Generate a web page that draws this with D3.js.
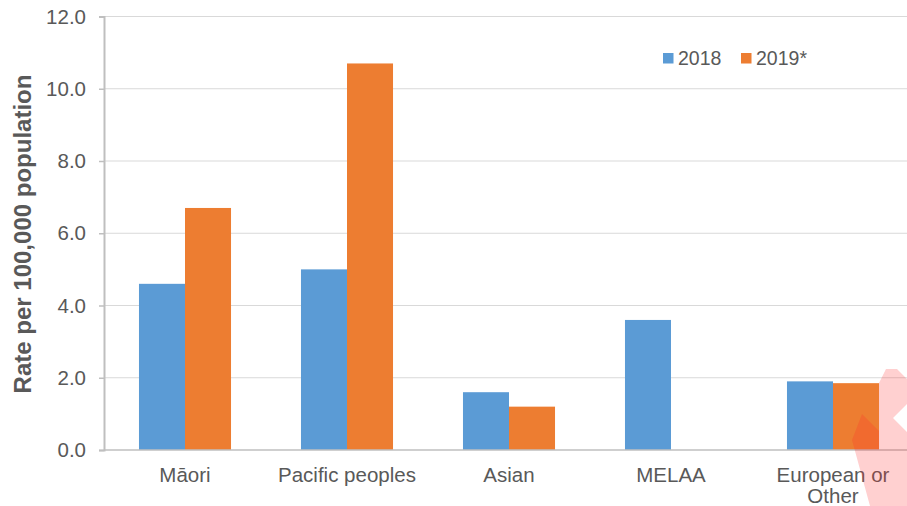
<!DOCTYPE html>
<html>
<head>
<meta charset="utf-8">
<script src="https://cdn.jsdelivr.net/npm/d3@7"></script>
<style>
  html, body { margin: 0; padding: 0; background: #fff; }
  svg { display: block; font-family: "Liberation Sans", Arial, sans-serif; }
</style>
</head>
<body>
<svg id="chart" width="907" height="506"></svg>
<script>
// ---- data ----
const categories = ["Māori", "Pacific peoples", "Asian", "MELAA", "European or Other"];
const categoryLines = [["Māori"], ["Pacific peoples"], ["Asian"], ["MELAA"], ["European or", "Other"]];
const seriesNames = ["2018", "2019*"];
const values2018 = [4.6, 5.0, 1.6, 3.6, 1.9];
const values2019 = [6.7, 10.7, 1.2, 0, 1.85];
const yTicks = [0, 2, 4, 6, 8, 10, 12];
const colors = ["#5B9BD5", "#ED7D31"];

(function () {
const svg = d3.select("#chart");
const W = 907, H = 506;
const mLeft = 104, mTop = 16.5, mBottom = 450;
const band = 162;

const x = d3.scaleBand().domain(categories)
  .range([mLeft, mLeft + band * categories.length]).paddingInner(0).paddingOuter(0);
const x1 = d3.scaleBand().domain(seriesNames).range([0, x.bandwidth()])
  .paddingInner(0).paddingOuter(0.76);
const y = d3.scaleLinear().domain([0, 12]).range([mBottom, mTop]);

const textColor = "#595959";

// gridlines
svg.append("g").selectAll("line").data(yTicks.filter(d => d > 0)).join("line")
  .attr("x1", mLeft).attr("x2", W)
  .attr("y1", d => y(d)).attr("y2", d => y(d))
  .attr("stroke", "#d9d9d9").attr("stroke-width", 1);

// bars
const seriesData = [values2018, values2019];
seriesNames.forEach((s, si) => {
  svg.append("g").selectAll("rect").data(categories).join("rect")
    .attr("x", c => x(c) + x1(s))
    .attr("width", x1.bandwidth())
    .attr("y", (c, i) => y(seriesData[si][i]))
    .attr("height", (c, i) => mBottom - y(seriesData[si][i]))
    .attr("fill", colors[si]);
});

// y axis
const yAxis = d3.axisLeft(y).tickValues(yTicks).tickFormat(d3.format(".1f"))
  .tickSize(5).tickPadding(13);
const ya = svg.append("g").attr("transform", `translate(${mLeft},0)`).call(yAxis);
ya.select(".domain").attr("stroke", "#bfbfbf").attr("stroke-width", 2);
ya.selectAll(".tick line").attr("stroke", "#bfbfbf").attr("stroke-width", 1.5);
ya.selectAll(".tick text").attr("fill", textColor)
  .style("font-size", "20.5px").style("font-family", "Liberation Sans, Arial, sans-serif");

// x axis line
svg.append("line").attr("x1", mLeft).attr("x2", W)
  .attr("y1", mBottom).attr("y2", mBottom)
  .attr("stroke", "#bfbfbf").attr("stroke-width", 1.5);

// category labels
const cl = svg.append("g");
categories.forEach((c, i) => {
  const t = cl.append("text")
    .attr("x", x(c) + x.bandwidth() / 2)
    .attr("y", 482)
    .attr("text-anchor", "middle")
    .attr("fill", textColor)
    .style("font-size", "20.5px");
  categoryLines[i].forEach((ln, li) => {
    t.append("tspan").attr("x", x(c) + x.bandwidth() / 2)
      .attr("dy", li === 0 ? 0 : 21).text(ln);
  });
});

// y title
svg.append("text")
  .attr("transform", `translate(31,${(75 + 393) / 2}) rotate(-90)`)
  .attr("text-anchor", "middle")
  .attr("fill", textColor)
  .style("font-size", "24px").style("font-weight", "bold")
  .text("Rate per 100,000 population");

// legend
const legendX = [663, 741];
seriesNames.forEach((s, i) => {
  svg.append("rect").attr("x", legendX[i]).attr("y", 53)
    .attr("width", 10.5).attr("height", 10.5).attr("fill", colors[i]);
  svg.append("text").attr("x", legendX[i] + 15).attr("y", 65)
    .attr("fill", textColor).style("font-size", "19.5px").text(s);
});

// watermark fragment (bottom-right corner)
svg.append("path")
  .attr("d", "M886,369L897,369L907,379L907,404L893,418L907,432L907,506L870,506L852,440L862,414L879,431L879,383Z")
  .attr("fill", "rgba(255,40,40,0.22)");
})();
</script>
</body>
</html>
